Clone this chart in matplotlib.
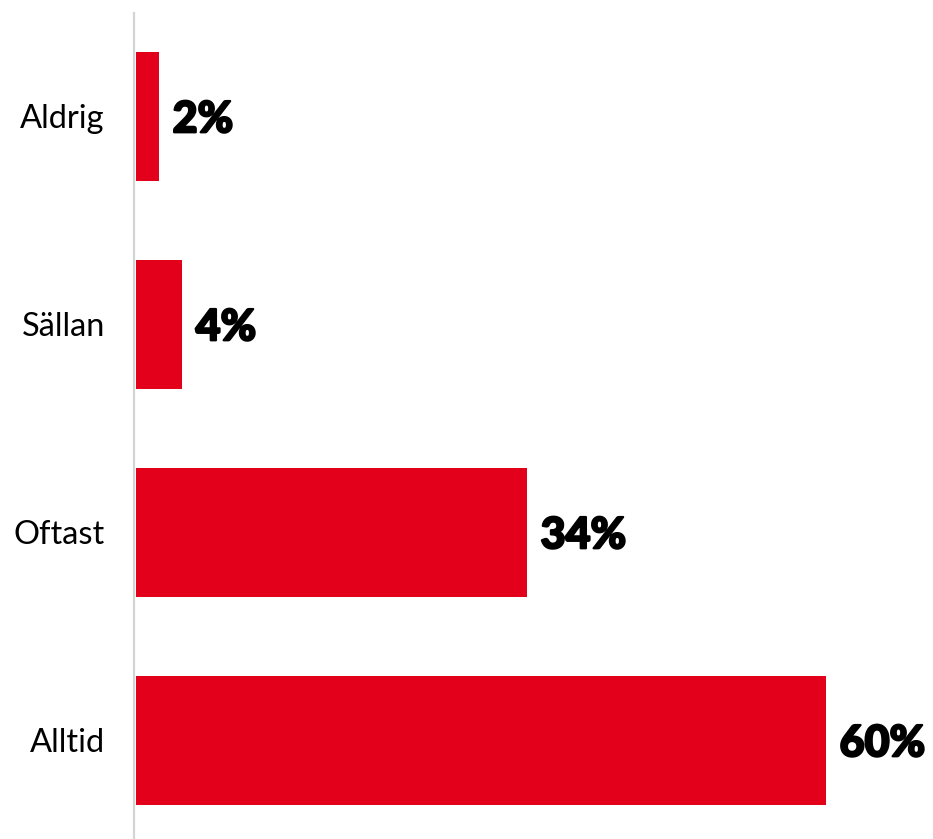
import matplotlib
matplotlib.use("Agg")
import matplotlib.pyplot as plt
import matplotlib.patheffects as pe

plt.rcParams["font.family"] = ["Lato", "DejaVu Sans"]

categories = ["Alltid", "Oftast", "Sällan", "Aldrig"]
values = [60, 34, 4, 2]
labels = ["60%", "34%", "4%", "2%"]

RED = "#E2001A"

fig = plt.figure(figsize=(9.33, 8.39), dpi=100)
ax = fig.add_axes([134 / 933, 0, 1 - 134 / 933, (839 - 13) / 839])

pos = range(len(categories))
ax.barh(pos, values, height=0.62, color=RED, left=0.15)

for y, v, lab in zip(pos, values, labels):
    ax.annotate(lab, (v + 0.15, y), xytext=(10, -2), textcoords="offset points",
                ha="left", va="center", fontsize=31, fontweight=900,
                color="black",
                path_effects=[pe.withStroke(linewidth=1.6, foreground="black")])

ax.set_xlim(0, (933 - 134) / 11.5)
ax.set_ylim(-0.4736, 3.4976)
ax.set_yticks(list(pos))
ax.set_yticklabels(categories, fontsize=23.5)
ax.tick_params(axis="y", length=0, pad=21)
ax.set_xticks([])

for side in ("top", "right", "bottom"):
    ax.spines[side].set_visible(False)
ax.spines["left"].set_color("#d4d4d4")
ax.spines["left"].set_linewidth(1.6)

fig.savefig("out.png", dpi=100)
